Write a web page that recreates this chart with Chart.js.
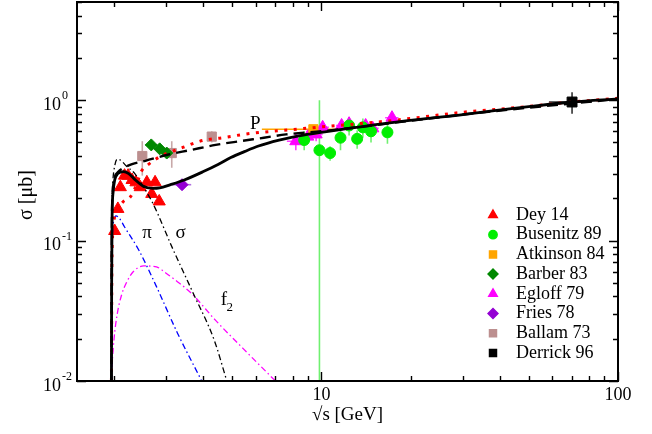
<!DOCTYPE html>
<html>
<head>
<meta charset="utf-8">
<script src="https://cdn.jsdelivr.net/npm/chart.js@4.4.0/dist/chart.umd.min.js"></script>
<style>
  html, body { margin: 0; padding: 0; background: #fff; }
</style>
</head>
<body>
<canvas id="chart" width="652" height="434"></canvas>
<script>
// sqrt(s) [GeV], sigma [mub]; experiment points are [x, y, dx, dy]
const dey14 = [[2.01,0.117,0,0],[2.06,0.168,0,0],[2.10,0.24,0,0],[2.17,0.29,0,0],[2.23,0.29,0,0],[2.30,0.27,0,0],
  [2.37,0.26,0,0],[2.45,0.24,0,0],[2.58,0.26,0,0],[2.68,0.215,0,0],[2.75,0.26,0,0],[2.84,0.19,0,0]];
const busenitz89 = [[8.75,0.52,0.3,0.08],[9.85,0.44,0,0.56],[10.7,0.42,0.3,0.05],[11.6,0.54,0.3,0.1],[12.4,0.66,0.3,0.1],
  [13.2,0.53,0.3,0.08],[13.8,0.64,0.3,0.1],[14.7,0.60,0.3,0.1],[16.7,0.59,0.7,0.1]];
const atkinson84 = [[9.4,0.62,3.1,0]];
const barber83 = [[2.67,0.48,0.12,0.02],[2.85,0.45,0.12,0.02],[3.01,0.42,0.12,0.02]];
const egloff79 = [[8.2,0.51,0.55,0.07],[9.0,0.55,0.5,0.06],[9.6,0.57,0.5,0.06],[10.1,0.64,0.5,0.06],[11.7,0.66,0.5,0.06],
  [12.4,0.68,0.5,0.06],[14.1,0.66,0.7,0.06],[14.9,0.63,0.7,0.06],[17.3,0.75,0.9,0.05]];
const fries78 = [[3.39,0.25,0.25,0]];
const ballam73 = [[2.49,0.40,0,0.11],[3.13,0.42,0,0.09],[4.27,0.55,0,0.05]];
const derrick96 = [[70,0.97,11.5,0.17]];

// model curves [x, y]
const total = [[1.96,0.01],[1.963,0.05],[1.97,0.15],[1.985,0.22],[2.01,0.27],[2.06,0.30],[2.15,0.31],[2.24,0.30],
  [2.36,0.27],[2.5,0.245],[2.7,0.235],[2.85,0.237],[3.1,0.25],[3.45,0.27],[4.0,0.31],[4.5,0.35],[4.95,0.39],
  [5.5,0.43],[6.1,0.47],[7.2,0.52],[8.5,0.56],[10,0.59],[17,0.69],[30,0.79],[50,0.90],[70,0.97],[100,1.02]];
const pomeron = [[1.96,0.01],[1.965,0.1],[1.98,0.22],[2.01,0.28],[2.07,0.31],[2.16,0.33],[2.3,0.35],[2.55,0.37],
  [3.05,0.41],[3.6,0.44],[4.4,0.48],[5.3,0.51],[6.4,0.54],[7.6,0.57],[10,0.60],[30,0.79],[100,1.02]];
const dotted = [[1.96,0.01],[1.965,0.05],[1.975,0.1],[2.0,0.14],[2.07,0.17],[2.15,0.19],[2.27,0.205],[2.38,0.25],
  [2.47,0.31],[2.62,0.35],[2.82,0.39],[3.02,0.42],[3.22,0.44],[3.5,0.47],[3.78,0.50],[4.05,0.52],[4.65,0.54],
  [5.45,0.57],[6.25,0.59],[6.85,0.60],[10,0.645],[16.7,0.71],[21,0.75],[30,0.82],[47,0.89],[70,0.97],[100,1.03]];
const sigmaEx = [[1.96,0.01],[1.965,0.12],[1.98,0.26],[2.01,0.34],[2.05,0.38],[2.1,0.375],[2.2,0.34],[2.35,0.30],
  [2.5,0.245],[2.7,0.185],[3.15,0.088],[3.7,0.042],[4.35,0.0196],[4.8,0.01]];
const piEx = [[1.96,0.01],[1.965,0.06],[1.975,0.11],[2.0,0.14],[2.03,0.15],[2.08,0.145],[2.17,0.125],[2.42,0.086],
  [2.78,0.047],[3.27,0.022],[3.95,0.01]];
const f2Ex = [[1.96,0.01],[1.97,0.013],[2.0,0.02],[2.05,0.03],[2.12,0.041],[2.2,0.05],[2.32,0.06],[2.52,0.066],
  [2.78,0.065],[2.98,0.059],[3.27,0.051],[3.65,0.042],[4.4,0.027],[5.45,0.017],[7.0,0.01]];

const xRange = [1.5, 100];
const yRange = [0.01, 5];

// curve names written on the plot: [text, subscript, x, y]
const curveLabels = [['P', '', 5.99, 0.68], ['\u03c0', '', 2.585, 0.113], ['\u03c3', '', 3.35, 0.113], ['f', '2', 4.69, 0.0377]];

const SERIF = '"Liberation Serif", "Times New Roman", serif';

document.addEventListener('DOMContentLoaded', function() {
    const xy = arr => arr.map(p => ({ x: p[0], y: p[1] }));

    function curve(arr, color, width, dash) {
        return {
            type: 'line', data: xy(arr), borderColor: color, borderWidth: width, borderDash: dash,
            pointRadius: 0, fill: false, cubicInterpolationMode: 'monotone', order: 0
        };
    }

    function exp(label, arr, style, color, bar, r) {
        return {
            type: 'scatter', label: label, data: xy(arr), errs: arr, barColor: bar,
            pointStyle: style, pointRadius: r, backgroundColor: color, borderColor: color,
            borderWidth: 1, order: 1
        };
    }

    const experiments = [
        exp('Dey 14', dey14, 'triangle', '#ff0000', '#ff0000', 7),
        exp('Busenitz 89', busenitz89, 'circle', '#00ee00', '#70f070', 5.5),
        exp('Atkinson 84', atkinson84, 'rect', '#ffa500', '#ffa500', 6.5),
        exp('Barber 83', barber83, 'rectRot', '#008800', '#3a9a3a', 6),
        exp('Egloff 79', egloff79, 'triangle', '#ff00ff', '#ff40ff', 7),
        exp('Fries 78', fries78, 'rectRot', '#9400d3', '#b070e0', 6),
        exp('Ballam 73', ballam73, 'rect', '#bc8f8f', '#c8a8a8', 6.5),
        exp('Derrick 96', derrick96, 'rect', '#000000', '#333333', 7)
    ];

    const curves = [
        curve(total, '#000000', 2.8, []),
        curve(pomeron, '#000000', 2.4, [11, 6]),
        curve(dotted, '#ff0000', 3, [3, 6.5]),
        curve(sigmaEx, '#000000', 1.3, [6, 3, 1.5, 3]),
        curve(piEx, '#0000ff', 1.3, [6, 3, 1.5, 3]),
        curve(f2Ex, '#ff00ff', 1.3, [6, 3, 1.5, 3])
    ];

    function logTicks(min, max) {
        const out = [];
        for (let e = Math.floor(Math.log10(min)); e <= Math.ceil(Math.log10(max)); e++) {
            for (let k = 1; k <= 9; k++) {
                const v = k * Math.pow(10, e);
                if (v >= min * 0.999 && v <= max * 1.001) out.push({ v: v, major: k === 1, e: e });
            }
        }
        return out;
    }

    const errorBars = {
        id: 'errorBars',
        beforeDatasetsDraw(chart) {
            const ctx = chart.ctx, xs = chart.scales.x, ys = chart.scales.y, a = chart.chartArea;
            ctx.save();
            ctx.beginPath();
            ctx.rect(a.left, a.top, a.right - a.left, a.bottom - a.top);
            ctx.clip();
            chart.data.datasets.forEach(ds => {
                if (!ds.errs) return;
                ctx.strokeStyle = ds.barColor;
                ctx.lineWidth = 1.6;
                ds.errs.forEach(p => {
                    const px = xs.getPixelForValue(p[0]), py = ys.getPixelForValue(p[1]);
                    ctx.beginPath();
                    if (p[2] > 0) {
                        ctx.moveTo(xs.getPixelForValue(p[0] - p[2]), py);
                        ctx.lineTo(xs.getPixelForValue(p[0] + p[2]), py);
                    }
                    if (p[3] > 0) {
                        const lo = p[1] - p[3] > 0 ? ys.getPixelForValue(p[1] - p[3]) : a.bottom;
                        ctx.moveTo(px, lo);
                        ctx.lineTo(px, ys.getPixelForValue(p[1] + p[3]));
                    }
                    ctx.stroke();
                });
            });
            ctx.restore();
        }
    };

    const frame = {
        id: 'frame',
        afterDatasetsDraw(chart) {
            const ctx = chart.ctx, xs = chart.scales.x, ys = chart.scales.y, a = chart.chartArea;
            ctx.save();
            ctx.strokeStyle = '#000';
            ctx.lineWidth = 2;
            ctx.strokeRect(a.left, a.top, a.right - a.left, a.bottom - a.top);

            // inward ticks on all four sides
            ctx.lineWidth = 1.4;
            ctx.beginPath();
            logTicks(xs.min, xs.max).forEach(t => {
                const px = Math.round(xs.getPixelForValue(t.v)) + 0.5, len = t.major ? 9 : 5;
                ctx.moveTo(px, a.bottom); ctx.lineTo(px, a.bottom - len);
                ctx.moveTo(px, a.top); ctx.lineTo(px, a.top + len);
            });
            logTicks(ys.min, ys.max).forEach(t => {
                const py = Math.round(ys.getPixelForValue(t.v)) + 0.5, len = t.major ? 9 : 5;
                ctx.moveTo(a.left, py); ctx.lineTo(a.left + len, py);
                ctx.moveTo(a.right, py); ctx.lineTo(a.right - len, py);
            });
            ctx.stroke();

            ctx.fillStyle = '#000';
            ctx.font = '18px ' + SERIF;
            ctx.textAlign = 'center';
            ctx.textBaseline = 'middle';
            logTicks(xs.min, xs.max).filter(t => t.major).forEach(t => {
                ctx.fillText(String(Math.round(t.v)), xs.getPixelForValue(t.v), 395);
            });

            logTicks(ys.min, ys.max).filter(t => t.major).forEach(t => {
                const py = ys.getPixelForValue(t.v);
                ctx.font = '18px ' + SERIF;
                ctx.textAlign = 'left';
                ctx.fillText('10', 43, py + 5);
                const w = ctx.measureText('10').width;
                ctx.font = '12px ' + SERIF;
                ctx.fillText(String(t.e), 43 + w + 1, py - 4);
            });

            ctx.font = '19px ' + SERIF;
            ctx.textAlign = 'center';
            ctx.fillText('\u221as [GeV]', (a.left + a.right) / 2, 415);

            ctx.save();
            ctx.translate(27, 195);
            ctx.rotate(-Math.PI / 2);
            ctx.font = '20px ' + SERIF;
            ctx.fillText('\u03c3 [\u03bcb]', 0, 0);
            ctx.restore();

            // curve names
            curveLabels.forEach(l => {
                const px = xs.getPixelForValue(l[2]), py = ys.getPixelForValue(l[3]);
                ctx.font = '19px ' + SERIF;
                ctx.textAlign = 'center';
                ctx.fillText(l[0], px, py);
                if (l[1]) {
                    ctx.font = '13px ' + SERIF;
                    ctx.fillText(l[1], px + 6, py + 8);
                }
            });

            // legend
            chart.data.datasets.filter(ds => ds.errs).forEach((ds, i) => {
                const y = 215 + i * 19.7;
                ctx.fillStyle = ds.backgroundColor;
                ctx.strokeStyle = ds.borderColor;
                Chart.helpers.drawPoint(ctx, {
                    pointStyle: ds.pointStyle, radius: ds.pointStyle === 'circle' ? 4.2 : 5,
                    rotation: 0, borderWidth: 1
                }, 493, y);
                ctx.fillStyle = '#000';
                ctx.font = '18px ' + SERIF;
                ctx.textAlign = 'left';
                ctx.fillText(ds.label, 516, y);
            });
            ctx.restore();
        }
    };

    const ctx = document.getElementById('chart').getContext('2d');
    const chart = new Chart(ctx, {
        type: 'scatter',
        data: { datasets: curves.concat(experiments) },
        options: {
            responsive: false,
            animation: false,
            devicePixelRatio: 1,
            layout: { autoPadding: false, padding: { left: 77, right: 34, top: 2, bottom: 53 } },
            scales: {
                x: { type: 'logarithmic', min: xRange[0], max: xRange[1], display: false },
                y: { type: 'logarithmic', min: yRange[0], max: yRange[1], display: false }
            },
            plugins: { legend: { display: false }, tooltip: { enabled: false } }
        },
        plugins: [errorBars, frame]
    });
});
</script>
</body>
</html>
